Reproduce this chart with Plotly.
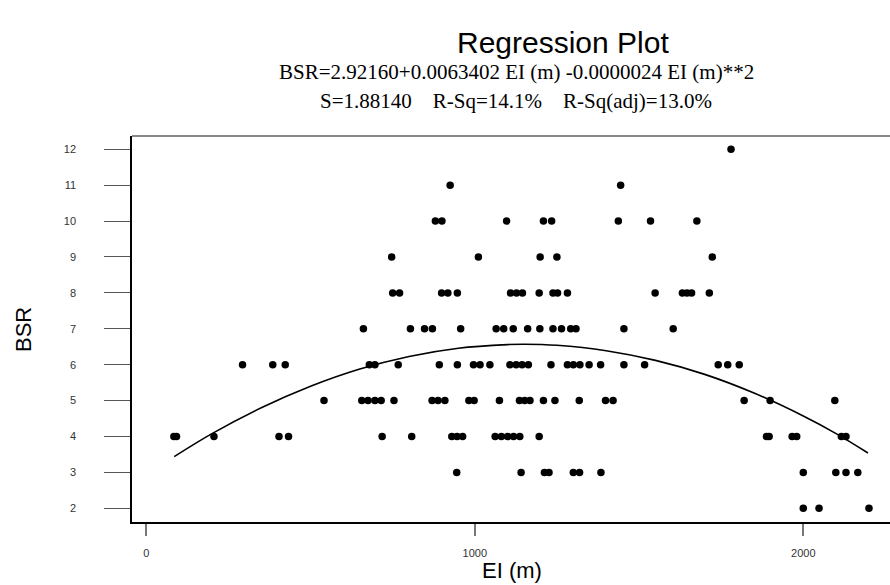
import plotly.graph_objects as go

# ---- data ----
bsr_levels = [12, 11, 10, 9, 8, 7, 6, 5, 4, 3, 2]
el_by_bsr = {
    12: [1780],
    11: [925, 1444],
    10: [880, 900, 1097, 1209, 1234, 1437, 1535, 1676],
    9: [747, 1011, 1199, 1250, 1723],
    8: [750, 771, 899, 918, 947, 1109, 1127, 1145, 1196, 1238, 1252, 1282,
        1549, 1632, 1646, 1660, 1714],
    7: [661, 804, 847, 871, 957, 1065, 1088, 1117, 1161, 1198, 1238, 1264,
        1292, 1308, 1454, 1604],
    6: [293, 385, 423, 679, 696, 767, 892, 947, 996, 1016, 1046, 1107, 1126,
        1144, 1163, 1232, 1282, 1300, 1320, 1348, 1383, 1454, 1517, 1741,
        1770, 1805],
    5: [541, 656, 675, 696, 715, 754, 870, 888, 909, 982, 998, 1075, 1136,
        1152, 1168, 1209, 1244, 1318, 1398, 1421, 1820, 1899, 2096],
    4: [84, 92, 206, 404, 433, 718, 808, 930, 946, 963, 1062, 1081, 1100,
        1118, 1137, 1196, 1888, 1896, 1966, 1980, 2116, 2130],
    3: [945, 1141, 1212, 1226, 1300, 1319, 1384, 2000, 2099, 2130, 2166],
    2: [2000, 2048, 2200],
}

# fitted curve
curve_el = [85, 200, 350, 500, 650, 800, 950, 1100, 1150, 1250, 1400, 1550,
            1700, 1850, 2000, 2100, 2197]
curve_bsr = [3.44, 4.08, 4.80, 5.40, 5.88, 6.23, 6.46, 6.56, 6.57, 6.54, 6.39,
             6.12, 5.73, 5.21, 4.57, 4.08, 3.54]

x_ticks = [0, 1000, 2000]
y_ticks = [2, 3, 4, 5, 6, 7, 8, 9, 10, 11, 12]

title_text = "Regression Plot"
eq_text = "BSR=2.92160+0.0063402 EI (m) -0.0000024 EI (m)**2"
stat_text = "S=1.88140&nbsp;&nbsp;&nbsp;&nbsp;R-Sq=14.1%&nbsp;&nbsp;&nbsp;&nbsp;R-Sq(adj)=13.0%"
x_title = "EI (m)"
y_title = "BSR"

pts_x, pts_y = [], []
for lvl in bsr_levels:
    for v in el_by_bsr[lvl]:
        pts_x.append(v)
        pts_y.append(lvl)

fig = go.Figure()
fig.add_trace(go.Scatter(
    x=curve_el, y=curve_bsr, mode="lines",
    line=dict(color="black", width=1.6, shape="spline"),
    hoverinfo="skip", showlegend=False))
fig.add_trace(go.Scatter(
    x=pts_x, y=pts_y, mode="markers",
    marker=dict(color="black", size=7.5, symbol="circle", line=dict(width=0)),
    showlegend=False))

W, H = 890, 585
L, R, T, B = 132, 0, 136, 63

fig.update_layout(
    width=W, height=H,
    margin=dict(l=L, r=R, t=T, b=B),
    paper_bgcolor="white", plot_bgcolor="white",
    font=dict(family="Liberation Sans, Arial, sans-serif", color="#333"),
    xaxis=dict(range=[-43.5, 2264], tickvals=x_ticks, showgrid=False,
               zeroline=False, showline=True, linecolor="black", linewidth=1.5,
               ticks="outside", ticklen=12, tickcolor="#777", tickwidth=1.5,
               ticklabelstandoff=8, tickfont=dict(size=11, color="#333")),
    yaxis=dict(range=[1.618, 12.37], tickvals=y_ticks, showgrid=False,
               zeroline=False, showline=True, linecolor="black", linewidth=1.5,
               ticks="outside", ticklen=26, tickcolor="#555", tickwidth=1.2,
               ticklabelstandoff=26, tickfont=dict(size=11, color="#333")),
    shapes=[dict(type="line", xref="paper", yref="paper", x0=0, x1=1, y0=1, y1=1,
                 line=dict(color="#888", width=2))],
)

# annotations placed by pixel position (converted to paper fractions)
pw, ph = W - L - R, H - T - B
def px2paper(px, py):
    return (px - L) / pw, (H - B - py) / ph

ann_specs = [
    (title_text, 563, 42, 30, "Liberation Sans, Arial", 0),
    (eq_text, 516, 72, 21, "Liberation Serif, Times New Roman", 0),
    (stat_text, 516, 101, 21, "Liberation Serif, Times New Roman", 0),
    (x_title, 512, 570, 22, "Liberation Sans, Arial", 0),
    (y_title, 23, 330, 22, "Liberation Sans, Arial", -90),
]
for text, px, py, size, fam, ang in ann_specs:
    ax, ay = px2paper(px, py)
    fig.add_annotation(text=text, x=ax, y=ay, xref="paper", yref="paper",
                       xanchor="center", yanchor="middle", showarrow=False,
                       textangle=ang,
                       font=dict(size=size, color="black", family=fam))

fig.write_html("out.html",
               config={"displayModeBar": False},
               post_script="document.body.style.margin='0px';")
